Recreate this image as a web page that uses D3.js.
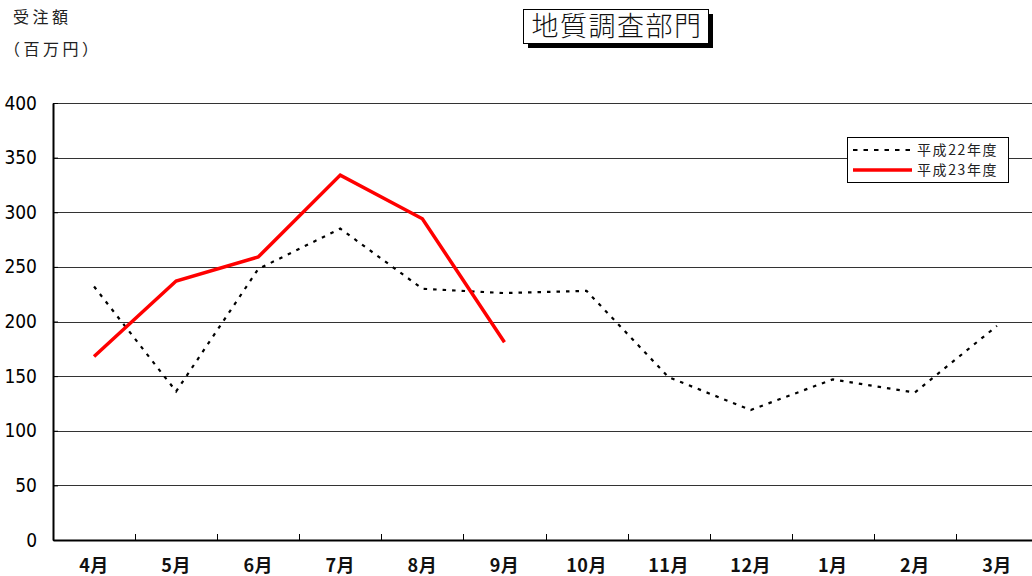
<!DOCTYPE html>
<html><head><meta charset="utf-8">
<script src="https://cdn.jsdelivr.net/npm/d3@7"></script>
<style>
html,body{margin:0;padding:0;background:#fff;overflow:hidden;}
text{font-family:"Noto Sans CJK JP",sans-serif;}
</style></head>
<body><svg id="c" width="1032" height="576"></svg>
<script>
const months = ["4月","5月","6月","7月","8月","9月","10月","11月","12月","1月","2月","3月"];
const seriesNames = ["平成22年度","平成23年度"];
const h22 = [232, 136, 248, 285, 230, 226, 228, 149, 119, 147, 135, 196];
const h23 = [168, 237, 259, 334, 294, 181];
const yTicks = [0,50,100,150,200,250,300,350,400];
const title = "地質調査部門";
const yLabel1 = "受注額";
const yLabel2 = "（百万円）";

const svg = d3.select("#c");
const L=53, R=1038, T=103, B=540;
const x = d3.scaleBand().domain(months).range([L,R]).padding(0);
const y = d3.scaleLinear().domain([0,400]).range([B,T]);

// gridlines
svg.append("g").selectAll("line").data(yTicks.filter(d=>d>0)).join("line")
  .attr("x1",L).attr("x2",1032)
  .attr("y1",d=>Math.round(y(d))+0.5).attr("y2",d=>Math.round(y(d))+0.5)
  .attr("stroke","#333").attr("stroke-width",1);

// y axis
const ya = svg.append("g").attr("transform",`translate(${L},0)`)
  .call(d3.axisRight(y).tickValues(yTicks).tickSize(5).tickSizeOuter(0).tickFormat(d3.format("d")));
ya.select(".domain").attr("stroke","#000").attr("stroke-width",2);
ya.selectAll(".tick line").attr("stroke","#000");
ya.selectAll(".tick text").attr("x",-16).attr("text-anchor","end")
  .style("font-family",'"Liberation Sans Narrow","DejaVu Sans Condensed",sans-serif')
  .attr("font-size",19).attr("fill","#000");

// x axis
const xa = svg.append("g").attr("transform",`translate(0,${B})`)
  .call(d3.axisTop(x).tickValues([]).tickSizeOuter(0));
xa.select(".domain").attr("stroke","#000").attr("stroke-width",2);
svg.append("g").selectAll("line").data(months.slice(1)).join("line")
  .attr("x1",d=>Math.round(x(d))+0.5).attr("x2",d=>Math.round(x(d))+0.5)
  .attr("y1",B).attr("y2",B-6).attr("stroke","#000").attr("stroke-width",1);
svg.append("g").selectAll("text").data(months).join("text")
  .attr("x",d=>x(d)+x.bandwidth()/2).attr("y",572)
  .attr("text-anchor","middle").style("font-size","18px").attr("font-weight","bold")
  .attr("fill","#111").attr("letter-spacing",0.5)
  .text(d=>d);

// lines
const line = d3.line().x((d,i)=>x(months[i])+x.bandwidth()/2).y(d=>y(d));
svg.append("path").datum(h22).attr("d",line).attr("fill","none")
  .attr("stroke","#000").attr("stroke-width",2.2).attr("stroke-dasharray","3.5,6");
svg.append("path").datum(h23).attr("d",line).attr("fill","none")
  .attr("stroke","#ff0000").attr("stroke-width",3.5).attr("stroke-linejoin","miter");

// legend
const lg = svg.append("g");
lg.append("rect").attr("x",847.5).attr("y",137.5).attr("width",161).attr("height",45)
  .attr("fill","#fff").attr("stroke","#000").attr("stroke-width",1);
lg.append("line").attr("x1",853).attr("x2",912).attr("y1",150).attr("y2",150)
  .attr("stroke","#000").attr("stroke-width",2.2).attr("stroke-dasharray","4.5,6");
lg.append("line").attr("x1",853).attr("x2",912).attr("y1",170).attr("y2",170)
  .attr("stroke","#ff0000").attr("stroke-width",3.5);
lg.selectAll("text").data(seriesNames).join("text")
  .attr("x",917).attr("y",(d,i)=>155+i*20).attr("font-size",14).attr("fill","#222")
  .attr("letter-spacing",1.6)
  .text(d=>d);

// title
const tg = svg.append("g");
tg.append("rect").attr("x",528).attr("y",14).attr("width",185).attr("height",34).attr("fill","#000");
tg.append("rect").attr("x",523.5).attr("y",9.5).attr("width",185).attr("height",34)
  .attr("fill","#fff").attr("stroke","#000").attr("stroke-width",1);
tg.append("text").attr("x",617).attr("y",36).attr("text-anchor","middle")
  .attr("font-size",27).attr("font-weight",300).attr("fill","#111").attr("letter-spacing",1.5).text(title);

// y label
svg.append("text").attr("x",13).attr("y",23).attr("font-size",16).attr("fill","#222")
  .attr("letter-spacing",3.5).text(yLabel1);
svg.append("text").attr("x",4).attr("y",55).attr("font-size",16).attr("fill","#222")
  .attr("letter-spacing",3.5).text(yLabel2);
</script></body></html>
